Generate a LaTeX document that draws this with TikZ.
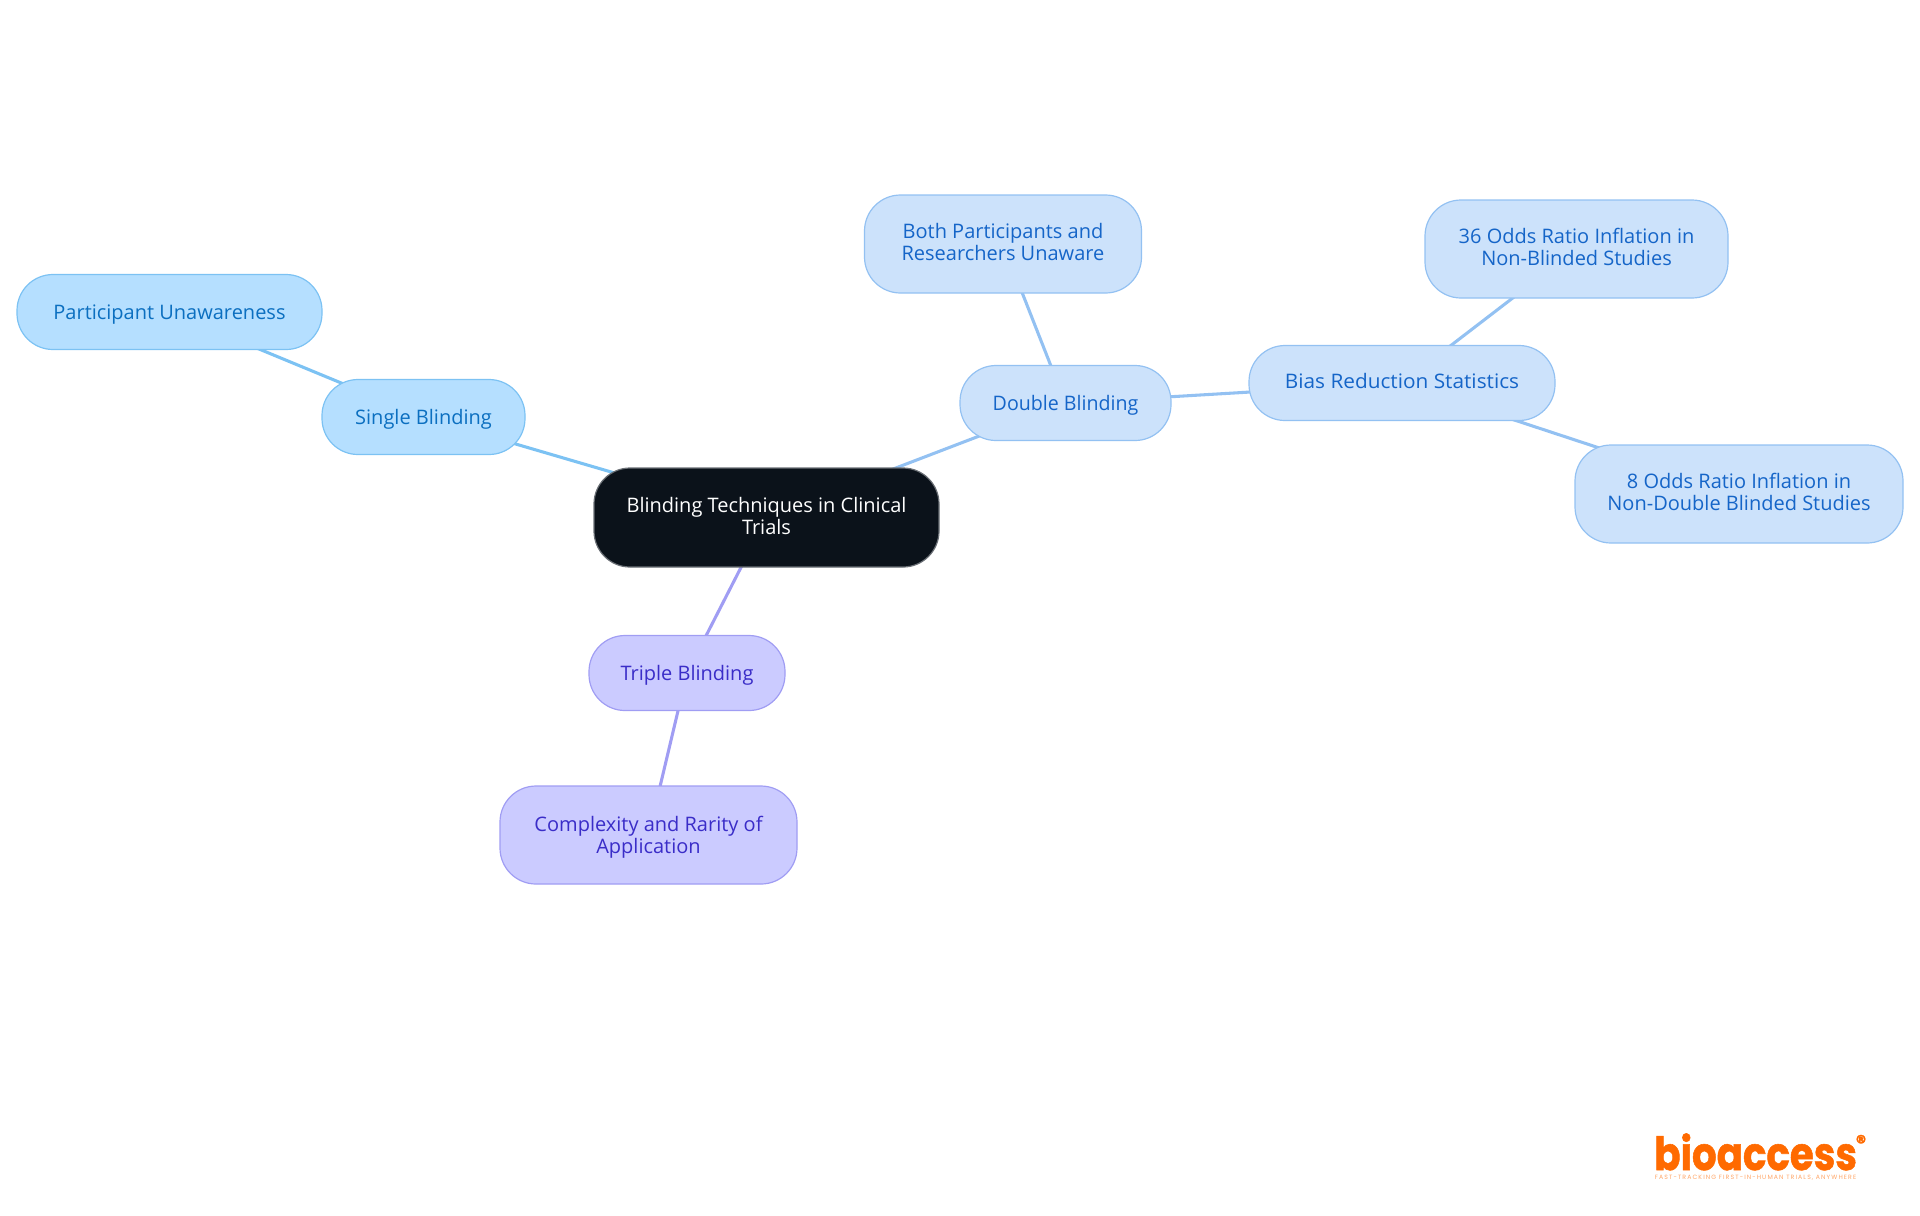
\documentclass[tikz,border=0pt]{standalone}
\usepackage{fontspec}
\setmainfont{Open Sans}
\newfontfamily\logofont[BoldFeatures={FakeBold=1.2}]{Poppins}
\newfontfamily\tagfont[LetterSpace=18]{Poppins}
\usetikzlibrary{backgrounds}
\definecolor{rootfill}{HTML}{0B121A}
\definecolor{rootline}{HTML}{6A6F75}
\definecolor{sfill}{HTML}{B5DFFF}
\definecolor{sline}{HTML}{7CC2F3}
\definecolor{stext}{HTML}{0B6FC0}
\definecolor{dfill}{HTML}{CCE2FB}
\definecolor{dline}{HTML}{93C1F2}
\definecolor{dtext}{HTML}{1565C8}
\definecolor{tfill}{HTML}{CBCBFF}
\definecolor{tline}{HTML}{A09DF3}
\definecolor{ttext}{HTML}{3A2DC8}
\definecolor{logoorange}{HTML}{FF6A00}
\newcommand{\tp}{\rule{0pt}{12.3pt}}
\newcommand{\tps}{\rule{0pt}{14.1pt}}
\newcommand{\bt}{\rule[-3.5pt]{0pt}{3.5pt}}
\tikzset{
  mapbox/.style={rounded corners=27pt,inner sep=0pt,align=center,line width=0.9pt,
    font=\fontsize{15}{16.5}\selectfont},
  rootbox/.style={mapbox,fill=rootfill,draw=rootline,text=white},
  sbox/.style={mapbox,fill=sfill,draw=sline,text=stext},
  dbox/.style={mapbox,fill=dfill,draw=dline,text=dtext},
  tbox/.style={mapbox,fill=tfill,draw=tline,text=ttext},
  sedge/.style={draw=sline,line width=2.3pt},
  dedge/.style={draw=dline,line width=2.3pt},
  tedge/.style={draw=tline,line width=2.3pt},
}
\begin{document}
\begin{tikzpicture}[x=0.75pt,y=-0.75pt]
\useasboundingbox (0,0) rectangle (1920,1215);
\node[rootbox,minimum width=258.75pt,minimum height=74.25pt] (root) at (766.5,517.5) {\tp Blinding Techniques in Clinical\\Trials\bt};
\node[sbox,minimum width=152.25pt,minimum height=56.25pt] (single) at (423.5,417) {\tps Single Blinding\bt};
\node[sbox,minimum width=228.75pt,minimum height=56.25pt] (part) at (169.5,312) {\tps Participant Unawareness\bt};
\node[dbox,minimum width=158.25pt,minimum height=56.25pt] (double) at (1065.5,403) {\tps\scalebox{0.98}[1]{Double Blinding}\bt};
\node[dbox,minimum width=207.75pt,minimum height=73.5pt] (both) at (1003,244) {\tp Both Participants and\\Researchers Unaware\bt};
\node[dbox,minimum width=229.5pt,minimum height=56.25pt] (bias) at (1402,383) {\tp\scalebox{1.04}[1]{Bias Reduction Statistics}\bt};
\node[dbox,minimum width=227.25pt,minimum height=73.5pt] (odds36) at (1576.5,249) {\tp 36 Odds Ratio Inflation in\\Non-Blinded Studies\bt};
\node[dbox,minimum width=246pt,minimum height=73.5pt] (odds8) at (1739,494) {\tp 8 Odds Ratio Inflation in\\Non-Double Blinded Studies\bt};
\node[tbox,minimum width=147pt,minimum height=56.25pt] (triple) at (687,673) {\tps Triple Blinding\bt};
\node[tbox,minimum width=222.75pt,minimum height=73.5pt] (complex) at (648.5,835) {\tps Complexity and Rarity of\\Application\bt};
\begin{pgfonlayer}{background}
\draw[sedge] (root.center) -- (single.center);
\draw[sedge] (single.center) -- (part.center);
\draw[dedge] (root.center) -- (double.center);
\draw[dedge] (double.center) -- (both.center);
\draw[dedge] (double.center) -- (bias.center);
\draw[dedge] (bias.center) -- (odds36.center);
\draw[dedge] (bias.center) -- (odds8.center);
\draw[tedge] (root.center) -- (triple.center);
\draw[tedge] (triple.center) -- (complex.center);
\end{pgfonlayer}
\node[anchor=base west,inner sep=0pt,text=logoorange] (logo) at (1654,1170) {\resizebox{152pt}{27.5pt}{\logofont\bfseries bioaccess}};
\node[anchor=center,inner sep=0pt,text=logoorange,font=\logofont\fontsize{15}{15}\selectfont\bfseries] (reg) at (1861,1142) {®};
\node[anchor=center,inner sep=0pt,text=logoorange!60] (tag) at (1755.5,1177.5) {\resizebox{151pt}{!}{\tagfont\fontsize{4}{4}\selectfont FAST-TRACKING FIRST-IN-HUMAN TRIALS, ANYWHERE}};
\end{tikzpicture}
\end{document}
